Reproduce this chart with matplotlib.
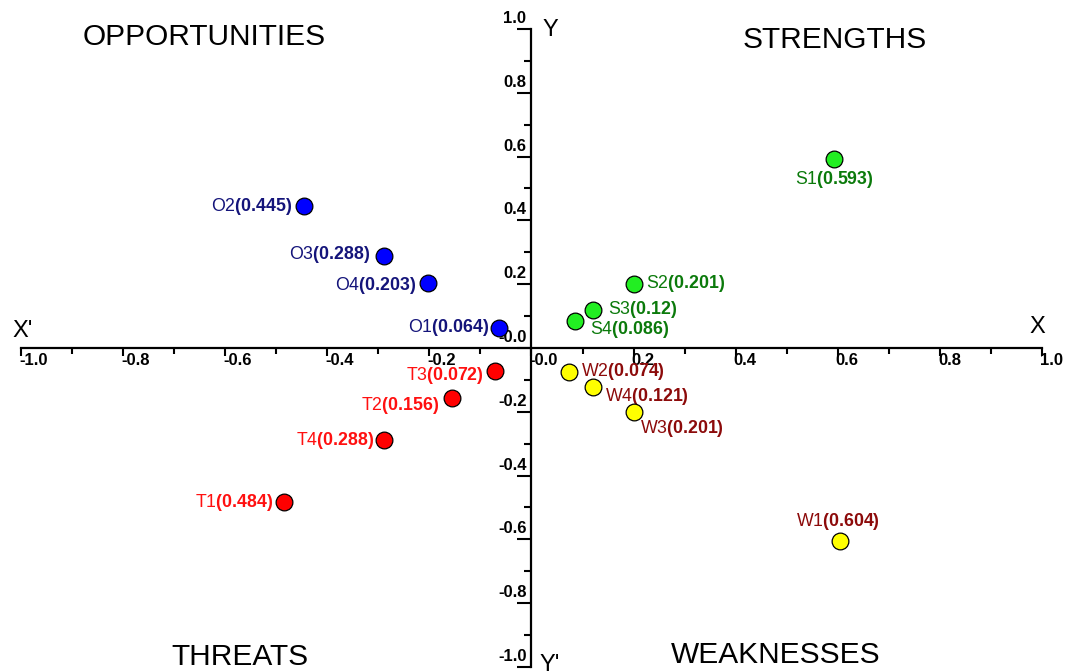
import matplotlib.pyplot as plt
import numpy as np

plt.rcParams['font.family'] = ['Liberation Sans', 'DejaVu Sans']
plt.rcParams['mathtext.fontset'] = 'custom'
plt.rcParams['mathtext.rm'] = 'Liberation Sans'
plt.rcParams['mathtext.bf'] = 'Liberation Sans:bold'

# factor scores of each SWOT item (x, y)
names = ['S1', 'S2', 'S3', 'S4',
         'O1', 'O2', 'O3', 'O4',
         'T1', 'T2', 'T3', 'T4',
         'W1', 'W2', 'W3', 'W4']
values = [0.593, 0.201, 0.12, 0.086,
          0.064, 0.445, 0.288, 0.203,
          0.484, 0.156, 0.072, 0.288,
          0.604, 0.074, 0.201, 0.121]
value_text = ['0.593', '0.201', '0.12', '0.086',
              '0.064', '0.445', '0.288', '0.203',
              '0.484', '0.156', '0.072', '0.288',
              '0.604', '0.074', '0.201', '0.121']
x_sign = [1, 1, 1, 1, -1, -1, -1, -1, -1, -1, -1, -1, 1, 1, 1, 1]
y_sign = [1, 1, 1, 1, 1, 1, 1, 1, -1, -1, -1, -1, -1, -1, -1, -1]

group_fill = {'S': '#22ee22', 'O': '#0000ff', 'T': '#ff0000', 'W': '#ffff00'}
group_text = {'S': '#0b7a0b', 'O': '#14147a', 'T': '#ff1010', 'W': '#8c0a0a'}

# label offsets in pixels (dx, dy, ha, va)
label_pos = {
    'S1': (0, -21, 'center', 'center'), 'S2': (12, 0, 'left', 'center'),
    'S3': (15, 0, 'left', 'center'), 'S4': (15, -9, 'left', 'center'),
    'O1': (-10, 0, 'right', 'center'), 'O2': (-12, 0, 'right', 'center'),
    'O3': (-14, 2, 'right', 'center'), 'O4': (-12, -2, 'right', 'center'),
    'T1': (-11, 0, 'right', 'center'), 'T2': (-13, -8, 'right', 'center'),
    'T3': (-11, -5, 'right', 'center'), 'T4': (-10, -1, 'right', 'center'),
    'W1': (-2, 19, 'center', 'center'), 'W2': (12, 0, 'left', 'center'),
    'W3': (6, -16, 'left', 'center'), 'W4': (12, -10, 'left', 'center'),
}

tick_values = np.round(np.arange(-1.0, 1.01, 0.2), 1)

fig = plt.figure(figsize=(10.67, 6.72), dpi=100)
ax = fig.add_axes([0, 0, 1, 1])
ax.set_xlim(-1.0411, 1.049)
ax.set_ylim(-1.0157, 1.0909)

for side in ['top', 'right']:
    ax.spines[side].set_visible(False)
for side in ['left', 'bottom']:
    ax.spines[side].set_position(('data', 0))
    ax.spines[side].set_bounds(-1, 1)
    ax.spines[side].set_linewidth(1.6)

ax.set_xticks(tick_values)
ax.set_yticks(tick_values)
ax.set_xticks(np.round(np.arange(-0.9, 1.0, 0.2), 1), minor=True)
ax.set_yticks(np.round(np.arange(-0.9, 1.0, 0.2), 1), minor=True)
ax.set_xticklabels([])
ax.set_yticklabels([])
ax.tick_params(axis='x', which='major', direction='out', length=6, width=1.5)
ax.tick_params(axis='x', which='minor', direction='out', length=4, width=1.5)
ax.tick_params(axis='y', which='major', direction='out', length=10, width=1.5)
ax.tick_params(axis='y', which='minor', direction='out', length=5, width=1.5)

for v in tick_values:
    ax.annotate(f'{v:.1f}', (v, 0), xytext=(-2, -5), textcoords='offset pixels',
                ha='left', va='top', fontsize=12, fontweight='bold')
    ax.annotate(f'{v:.1f}', (0, v), xytext=(-5, 3), textcoords='offset pixels',
                ha='right', va='bottom', fontsize=12, fontweight='bold')

for i, name in enumerate(names):
    g = name[0]
    x = x_sign[i] * values[i]
    y = y_sign[i] * values[i]
    ax.scatter([x], [y], s=145, c=group_fill[g], edgecolors='black',
               linewidths=0.9, zorder=5)
    dx, dy, ha, va = label_pos[name]
    ax.annotate(name + r'$\mathbf{(' + value_text[i] + ')}$', (x, y),
                xytext=(dx, dy), textcoords='offset pixels', ha=ha, va=va,
                fontsize=12.8, color=group_text[g])

# quadrant titles and axis names
ax.text(0.191, 0.945, 'OPPORTUNITIES', transform=ax.transAxes, ha='center',
        va='center', fontsize=21.5)
ax.text(0.782, 0.94, 'STRENGTHS', transform=ax.transAxes, ha='center',
        va='center', fontsize=21.5)
ax.text(0.225, 0.022, 'THREATS', transform=ax.transAxes, ha='center',
        va='center', fontsize=21.5)
ax.text(0.727, 0.026, 'WEAKNESSES', transform=ax.transAxes, ha='center',
        va='center', fontsize=21.5)
ax.text(0.021, 0.508, "X'", transform=ax.transAxes, ha='center',
        va='center', fontsize=17)
ax.text(0.972, 0.513, 'X', transform=ax.transAxes, ha='center',
        va='center', fontsize=17)
ax.text(0.516, 0.955, 'Y', transform=ax.transAxes, ha='center',
        va='center', fontsize=17)
ax.text(0.515, 0.01, "Y'", transform=ax.transAxes, ha='center',
        va='center', fontsize=17)

fig.savefig('out.png', dpi=100)
